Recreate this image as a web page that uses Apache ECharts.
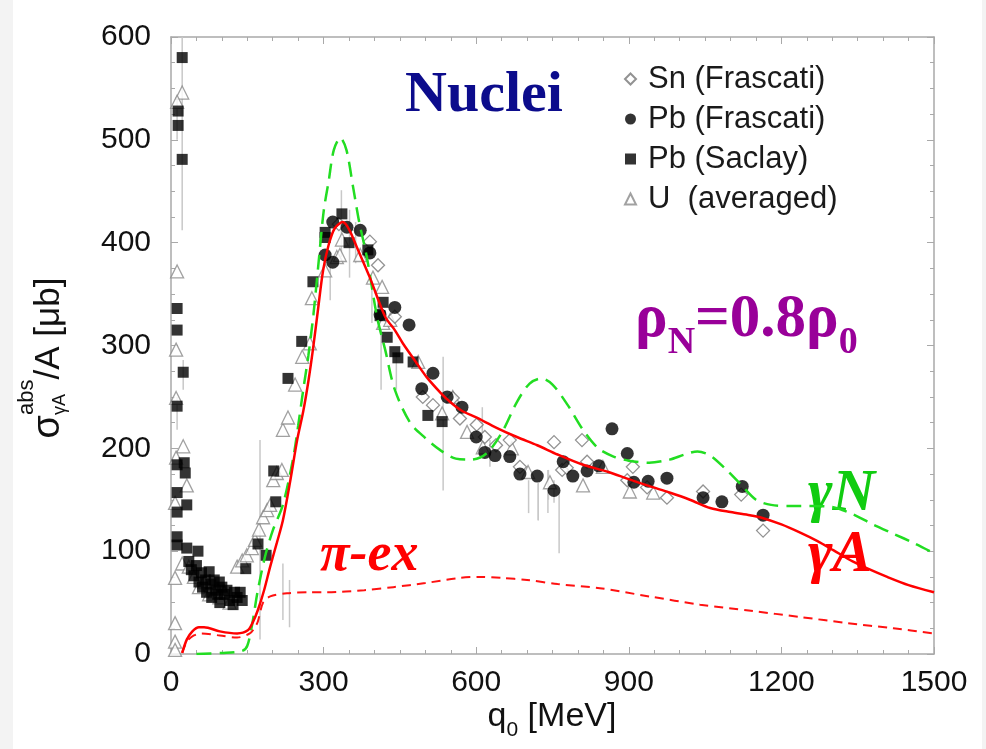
<!DOCTYPE html>
<html><head><meta charset="utf-8">
<script src="https://cdn.jsdelivr.net/npm/echarts@6/dist/echarts.min.js"></script>
<style>html,body{margin:0;padding:0;background:#fff}#c{width:986px;height:749px}</style>
</head><body><div id="c"></div>
<script>
// ---------- tick labels ----------
const xTickLabels = [0, 300, 600, 900, 1200, 1500];
const yTickLabels = [0, 100, 200, 300, 400, 500, 600];

// ---------- theory curves ----------
const gammaN_x = [50,100,140,150,160,170,185,200,220,240,250,260,270,280,290,300,310,320,333,345,358,370,385,405,421,440,470,500,530,560,590,620,650,680,705,728,750,780,810,840,870,900,940,980,1010,1035,1060,1090,1120,1150,1180,1220,1260,1300,1340,1380,1420,1460,1500];
const gammaN_y = [0,1,3,8,30,60,95,120,145,190,222,257,290,330,380,430,460,490,502,490,454,420,386,328,296,257,225,210,198,190,189,195,215,245,263,268,262,242,218,200,192,188,186,189,194,197,193,180,165,150,145,144,144,143,136,126,117,108,98];

const gammaA_x = [22,31,42,55,65,96,130,151,161,171,183,195,208,220,235,248,260,270,279,289,299,310,322,338,350,365,391,421,440,456,480,503,530,549,570,600,640,680,720,760,810,860,900,942,980,1020,1060,1100,1138,1158,1200,1237,1270,1302,1340,1370,1408,1450,1500];
const gammaA_y = [1,14,22,26,26,22,20,23,31,43,62,85,108,130,170,208,236,265,296,335,373,398,414,420,413,396,366,328,315,302,285,269,254,245,237,230,220,211,203,194,184,177,170,163,157,150,142,138,135,133,126,118,110,101,90,83,75,67,60];

const piex_x = [22,31,45,60,96,130,155,165,171,181,195,228,273,307,380,437,500,568,608,650,700,760,843,940,1040,1140,1237,1330,1420,1500];
const piex_y = [1,12,18,20,18,16,20,26,32,50,56,59,60,60,62,65,69,74,75,74,72,68,64,56,48,42,36,30,25,20];

// ---------- data: Sn (Frascati) ----------
const snX = [330,391,407,440,495,515,554,568,601,617,639,666,686,753,769,778,808,818,897,908,936,975,1046,1121,1164];
const snY = [418,401,378,328,250,242,249,229,223,211,203,208,182,206,179,181,208,187,169,182,162,152,158,155,120];

// ---------- data: Pb (Frascati) ----------
const pbfX = [303,318,318,346,372,391,411,440,468,493,515,543,572,600,617,637,666,686,720,753,771,790,818,841,867,897,910,938,975,1046,1083,1123,1164];
const pbfY = [388,420,381,415,412,390,330,337,320,258,273,250,240,211,196,193,192,175,173,159,187,173,178,183,219,195,167,168,171,152,148,163,135];

// ---------- data: Pb (Saclay) ----------
const pbsX = [22,14,14,22,12,12,24,12,12,26,28,12,12,31,12,12,31,53,
  35,40,45,50,55,60,62,68,70,75,78,80,85,88,92,95,96,100,105,110,115,122,125,130,136,140,
  147,171,187,206,202,230,257,279,303,303,336,350,387,417,411,425,440,446,476,505,533];
const pbsY = [580,528,514,481,336,315,274,241,184,186,176,157,138,145,114,106,103,100,
  90,82,76,86,70,79,65,72,60,80,68,55,72,62,58,70,50,65,58,62,52,48,60,55,60,52,
  83,107,96,148,178,268,304,362,410,405,428,400,393,342,329,308,294,288,284,232,226];

// ---------- data: U (averaged) ----------
const uX = [22,12,12,10,10,24,10,31,8,22,8,8,8,8,
  35,45,55,65,75,85,95,105,115,
  130,140,149,159,165,173,181,189,195,201,208,218,220,230,244,258,273,277,303,326,332,336,372,397,415,417,431,486,533,554,582,613,670,702,745,810,849,902,948];
const uY = [546,537,372,296,249,202,191,164,147,88,74,30,12,4,
  85,75,65,70,58,60,55,60,50,
  85,91,96,103,111,121,133,140,145,169,176,179,218,230,262,289,302,346,373,386,388,403,388,366,357,322,325,284,234,250,216,201,200,177,167,164,182,158,157];

// ---------- error bars ----------
const errX  = [22,12,24,12,175,220,233,313,335,351,363,395,413,443,535,612,627,703,722,742,753,763,741,722];
const errLo = [412,500,257,218,14,33,26,344,386,366,380,322,257,257,159,192,182,137,130,150,147,98,137,130];
const errHi = [600,541,286,250,208,88,72,376,451,432,420,354,315,293,289,240,208,169,166,179,169,157,179,166];

const zip = (a, b) => a.map((v, i) => [v, b[i]]);

const chart = echarts.init(document.getElementById('c'), null, {renderer: 'canvas'});

const axisGray = '#a9a9a9';
const FONT = 'Liberation Sans, Arial, sans-serif';
const SERIF = 'Liberation Serif, Times New Roman, serif';

function mkX(pos, showLabel) {
  return {
    type: 'value', min: 0, max: 1500, interval: 300, position: pos,
    axisLine: {show: true, onZero: false, lineStyle: {color: axisGray, width: 1.5}},
    axisTick: {show: true, inside: true, length: 7, lineStyle: {color: axisGray, width: 1}},
    minorTick: {show: true, splitNumber: 6, length: 4, lineStyle: {color: axisGray, width: 1}},
    splitLine: {show: false}, minorSplitLine: {show: false},
    axisLabel: {show: showLabel, fontSize: 30, color: '#111', margin: 14, fontFamily: FONT,
      formatter: v => xTickLabels.includes(v) ? String(v) : ''}
  };
}
function mkY(pos, showLabel) {
  return {
    type: 'value', min: 0, max: 600, interval: 100, position: pos,
    axisLine: {show: true, onZero: false, lineStyle: {color: axisGray, width: 1.5}},
    axisTick: {show: true, inside: true, length: 7, lineStyle: {color: axisGray, width: 1}},
    minorTick: {show: true, splitNumber: 4, length: 4, lineStyle: {color: axisGray, width: 1}},
    splitLine: {show: false}, minorSplitLine: {show: false},
    axisLabel: {show: showLabel, fontSize: 30, color: '#111', margin: 20, fontFamily: FONT,
      formatter: v => yTickLabels.includes(v) ? String(v) : ''}
  };
}

// measure helper for composed labels
const mctx = document.createElement('canvas').getContext('2d');
function tw(font, t) { mctx.font = font; return mctx.measureText(t).width; }

const graphics = [];
graphics.push({type: 'rect', shape: {x: 0, y: 0, width: 13, height: 749}, style: {fill: '#f3f3f3'}, silent: true, z: -10});
graphics.push({type: 'rect', shape: {x: 982, y: 0, width: 4, height: 749}, style: {fill: '#f3f3f3'}, silent: true, z: -10});

// x axis title: q0 [MeV]
(function () {
  const f1 = '34px ' + FONT, f2 = '21px ' + FONT;
  const w1 = tw(f1, 'q'), w2 = tw(f2, '0'), w3 = tw(f1, ' [MeV]');
  let x = 552 - (w1 + w2 + w3) / 2;
  const y = 717;
  graphics.push({type: 'text', x: x, y: y, style: {text: 'q', font: f1, fill: '#111', verticalAlign: 'middle'}});
  x += w1;
  graphics.push({type: 'text', x: x, y: y + 13, style: {text: '0', font: f2, fill: '#111', verticalAlign: 'middle'}});
  x += w2;
  graphics.push({type: 'text', x: x, y: y, style: {text: ' [MeV]', font: f1, fill: '#111', verticalAlign: 'middle'}});
})();

// y axis title: σ^abs_γA /A [μb]  (rotated)
(function () {
  const fs = '38px ' + FONT, fm = '35px ' + FONT, fsup = '22px ' + FONT, fsub = '18px ' + FONT;
  const ws = tw(fs, 'σ'), wsup = tw(fsup, 'abs'), wsub = tw(fsub, 'γA'), wm = tw(fm, '/A [μb]');
  const W = ws + Math.max(wsup, wsub) + wm;
  let x = -W / 2;
  const kids = [];
  kids.push({type: 'text', x: x, y: 0, style: {text: 'σ', font: fs, fill: '#111', verticalAlign: 'middle'}});
  x += ws;
  kids.push({type: 'text', x: x, y: -22, style: {text: 'abs', font: fsup, fill: '#111', verticalAlign: 'middle'}});
  kids.push({type: 'text', x: x, y: 11, style: {text: 'γA', font: fsub, fill: '#111', verticalAlign: 'middle'}});
  x += Math.max(wsup, wsub);
  kids.push({type: 'text', x: x, y: 0, style: {text: '/A [μb]', font: fm, fill: '#111', verticalAlign: 'middle'}});
  graphics.push({type: 'group', x: 49, y: 358, rotation: Math.PI / 2, children: kids});
})();

// annotations
graphics.push({type: 'text', x: 405, y: 96, style: {text: 'Nuclei', font: 'bold 58px ' + SERIF, fill: '#0c0c8c', verticalAlign: 'middle'}});
(function () {
  const fb = 'bold 61px ' + SERIF, fsb = 'bold 38px ' + SERIF, col = '#990099';
  let x = 635; const y = 320;
  const parts = [['ρ', fb, 0], ['N', fsb, 23], ['=0.8ρ', fb, 0], ['0', fsb, 23]];
  parts.forEach(p => {
    graphics.push({type: 'text', x: x, y: y + p[2], style: {text: p[0], font: p[1], fill: col, verticalAlign: 'middle'}});
    x += tw(p[1], p[0]);
  });
})();
graphics.push({type: 'text', x: 320, y: 556, style: {text: 'π-ex', font: 'italic bold 54px ' + SERIF, fill: '#ff0000', verticalAlign: 'middle'}});
graphics.push({type: 'text', x: 808, y: 495, style: {text: 'γN', font: 'italic bold 59px ' + SERIF, fill: '#11cc11', verticalAlign: 'middle'}});
graphics.push({type: 'text', x: 808, y: 556, style: {text: 'γA', font: 'italic bold 59px ' + SERIF, fill: '#ff0000', verticalAlign: 'middle'}});

const hollow = (c) => ({color: '#ffffff', borderColor: c, borderWidth: 1.3});

const option = {
  animation: false,
  backgroundColor: '#ffffff',
  grid: {left: 171, right: 52, top: 37, bottom: 95, containLabel: false},
  xAxis: [mkX('bottom', true), mkX('top', false)],
  yAxis: [mkY('left', true), mkY('right', false)],
  legend: {
    orient: 'vertical', left: 619, top: 58, itemGap: 8, itemWidth: 11, itemHeight: 11,
    textStyle: {fontSize: 31, color: '#1a1a1a', fontFamily: FONT, lineHeight: 32, padding: [0, 0, 0, 7]},
    data: ['Sn (Frascati)', 'Pb (Frascati)', 'Pb (Saclay)', 'U  (averaged)']
  },
  graphic: {elements: graphics},
  series: [
    {type: 'custom', name: 'err', silent: true, z: 1, xAxisIndex: 0, yAxisIndex: 0,
      data: errX.map((x, i) => [x, errLo[i], errHi[i]]),
      encode: {x: 0, y: [1, 2]},
      renderItem: (params, api) => {
        const p1 = api.coord([api.value(0), api.value(1)]);
        const p2 = api.coord([api.value(0), api.value(2)]);
        return {type: 'line', shape: {x1: p1[0], y1: p1[1], x2: p2[0], y2: p2[1]}, style: {stroke: '#c8c8c8', lineWidth: 1.5}};
      }},
    {type: 'scatter', name: 'U  (averaged)', z: 2, symbol: 'triangle', symbolSize: 13,
      itemStyle: hollow('#8a8a8a'), data: zip(uX, uY)},
    {type: 'scatter', name: 'Sn (Frascati)', z: 2, symbol: 'diamond', symbolSize: 13,
      itemStyle: hollow('#777777'), data: zip(snX, snY)},
    {type: 'scatter', name: 'Pb (Saclay)', z: 3, symbol: 'rect', symbolSize: 11,
      itemStyle: {color: '#000000'}, data: zip(pbsX, pbsY)},
    {type: 'scatter', name: 'Pb (Frascati)', z: 3, symbol: 'circle', symbolSize: 13,
      itemStyle: {color: '#000000'}, data: zip(pbfX, pbfY)},
    {type: 'line', name: 'gammaN', z: 4, showSymbol: false, smooth: 0.3, data: zip(gammaN_x, gammaN_y),
      lineStyle: {color: '#22dd22', width: 2.5, type: [15, 8]}},
    {type: 'line', name: 'gammaA', z: 5, showSymbol: false, smooth: 0.3, data: zip(gammaA_x, gammaA_y),
      lineStyle: {color: '#ff0000', width: 2.5}},
    {type: 'line', name: 'piex', z: 4, showSymbol: false, smooth: 0.3, data: zip(piex_x, piex_y),
      lineStyle: {color: '#ff1111', width: 2, type: [9, 6]}}
  ]
};
chart.setOption(option);
</script>
</body></html>
